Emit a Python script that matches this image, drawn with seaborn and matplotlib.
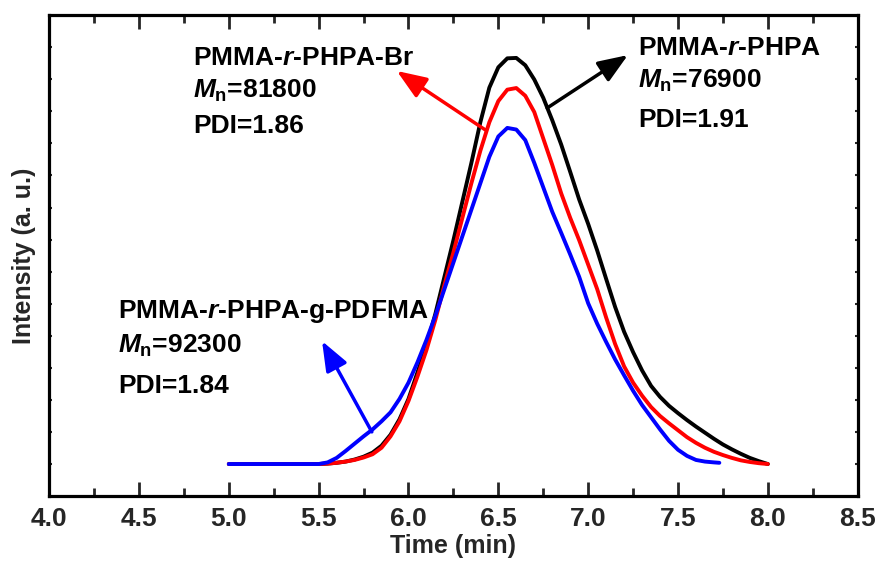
import numpy as np
import pandas as pd
import matplotlib
matplotlib.use('Agg')
import matplotlib.pyplot as plt
import seaborn as sns

# GPC traces (time in min, intensity normalised to black peak)
time_black = [5.0, 5.5, 5.55, 5.6, 5.65, 5.7, 5.75, 5.8, 5.85, 5.9, 5.95, 6.0, 6.05,
              6.1, 6.15, 6.2, 6.25, 6.3, 6.35, 6.4, 6.45, 6.5, 6.55, 6.6, 6.65, 6.7,
              6.75, 6.8, 6.85, 6.9, 6.95, 7.0, 7.05, 7.1, 7.15, 7.2, 7.25, 7.3, 7.35,
              7.4, 7.45, 7.5, 7.55, 7.6, 7.65, 7.7, 7.75, 7.8, 7.85, 7.9, 7.95, 8.0]
int_black = [0, 0, 0.001, 0.003, 0.006, 0.011, 0.018, 0.028, 0.045, 0.072, 0.11, 0.16, 0.225,
             0.29, 0.37, 0.46, 0.55, 0.645, 0.74, 0.84, 0.925, 0.975, 0.997, 0.998, 0.98, 0.945,
             0.9, 0.845, 0.785, 0.718, 0.65, 0.59, 0.525, 0.455, 0.386, 0.325, 0.275, 0.23, 0.192,
             0.165, 0.143, 0.125, 0.108, 0.092, 0.077, 0.062, 0.048, 0.036, 0.025, 0.015, 0.007, 0.0]

time_red = [5.0, 5.5, 5.55, 5.6, 5.65, 5.7, 5.75, 5.8, 5.85, 5.9, 5.95, 6.0, 6.05,
            6.1, 6.15, 6.2, 6.25, 6.3, 6.35, 6.4, 6.45, 6.5, 6.55, 6.6, 6.65, 6.7,
            6.75, 6.8, 6.85, 6.9, 6.95, 7.0, 7.05, 7.1, 7.15, 7.2, 7.25, 7.3, 7.35,
            7.4, 7.45, 7.5, 7.55, 7.6, 7.65, 7.7, 7.75, 7.8, 7.85, 7.9, 7.95, 8.0]
int_red = [0, 0, 0.001, 0.003, 0.006, 0.010, 0.016, 0.024, 0.040, 0.068, 0.105, 0.155, 0.215,
           0.28, 0.355, 0.44, 0.52, 0.605, 0.69, 0.77, 0.84, 0.892, 0.92, 0.924, 0.905, 0.865,
           0.80, 0.735, 0.665, 0.605, 0.55, 0.49, 0.43, 0.36, 0.295, 0.24, 0.2, 0.168, 0.14,
           0.118, 0.1, 0.083, 0.066, 0.052, 0.04, 0.03, 0.022, 0.015, 0.009, 0.005, 0.002, 0.0]

time_blue = [5.0, 5.5, 5.55, 5.6, 5.65, 5.7, 5.75, 5.8, 5.85, 5.9, 5.95, 6.0, 6.05,
             6.1, 6.15, 6.2, 6.25, 6.3, 6.35, 6.4, 6.45, 6.5, 6.55, 6.6, 6.65, 6.7,
             6.75, 6.8, 6.85, 6.9, 6.95, 7.0, 7.05, 7.1, 7.15, 7.2, 7.25, 7.3, 7.35,
             7.4, 7.45, 7.5, 7.55, 7.6, 7.65, 7.7, 7.73]
int_blue = [0, 0, 0.004, 0.015, 0.032, 0.05, 0.068, 0.085, 0.105, 0.127, 0.16, 0.2, 0.25,
            0.305, 0.365, 0.43, 0.495, 0.56, 0.625, 0.69, 0.755, 0.805, 0.826, 0.822, 0.796, 0.74,
            0.68, 0.62, 0.568, 0.515, 0.46, 0.395, 0.345, 0.3, 0.257, 0.218, 0.18, 0.145, 0.115,
            0.085, 0.057, 0.035, 0.02, 0.01, 0.006, 0.004, 0.003]

samples = ['PMMA-r-PHPA', 'PMMA-r-PHPA-Br', 'PMMA-r-PHPA-g-PDFMA']
colors = ['black', 'red', 'blue']
mn_values = ['76900', '81800', '92300']
pdi_values = ['1.91', '1.86', '1.84']
name_tex = [r'PMMA-$\mathit{r}$-PHPA', r'PMMA-$\mathit{r}$-PHPA-Br',
            r'PMMA-$\mathit{r}$-PHPA-g-PDFMA']

df = pd.concat([
    pd.DataFrame({'time': time_black, 'intensity': int_black, 'sample': samples[0]}),
    pd.DataFrame({'time': time_red, 'intensity': int_red, 'sample': samples[1]}),
    pd.DataFrame({'time': time_blue, 'intensity': int_blue, 'sample': samples[2]}),
])

sns.set_theme(style='ticks')
plt.rcParams['font.family'] = ['Liberation Sans', 'DejaVu Sans']
plt.rcParams['font.weight'] = 'bold'
plt.rcParams['mathtext.fontset'] = 'custom'
plt.rcParams['mathtext.rm'] = 'Liberation Sans:bold'
plt.rcParams['mathtext.bf'] = 'Liberation Sans:bold'
plt.rcParams['mathtext.it'] = 'Liberation Sans:bold:italic'

fig = plt.figure(figsize=(8.77, 5.63), dpi=100)
ax = fig.add_axes([0.056, 0.119, 0.922, 0.854])

sns.lineplot(data=df, x='time', y='intensity', hue='sample', hue_order=samples,
             palette=colors, sort=False, estimator=None, linewidth=2.8,
             legend=False, ax=ax)
for ln in ax.lines:
    ln.set_solid_capstyle('round')
    ln.set_solid_joinstyle('round')

ylo, yhi = -0.0786, 1.103
ax.set_xlim(4.0, 8.5)
ax.set_ylim(ylo, yhi)
ax.set_xticks(np.arange(4.0, 8.51, 0.5))
ax.set_xticks(np.arange(4.25, 8.5, 0.5), minor=True)
ax.set_xticklabels([f'{v:.1f}' for v in np.arange(4.0, 8.51, 0.5)])
ax.set_yticks(np.linspace(ylo, yhi, 16)[1:-1])
ax.set_yticklabels([])

ax.tick_params(axis='x', which='major', direction='in', length=10, width=2,
               labelsize=19, pad=8, top=True)
ax.tick_params(axis='x', which='minor', direction='in', length=5.5, width=2, top=True)
ax.tick_params(axis='y', which='major', direction='in', length=2, width=1.5, right=True)
for sp in ax.spines.values():
    sp.set_linewidth(2.3)
    sp.set_color('black')
for lab in ax.get_xticklabels():
    lab.set_fontweight('bold')

ax.set_xlabel('Time (min)', fontsize=18, fontweight='bold', labelpad=2)
ax.set_ylabel('Intensity (a. u.)', fontsize=18, fontweight='bold', labelpad=6)

# annotation arrows (tail on curve -> head at label)
arrow_tails = [(6.772, 0.875), (6.428, 0.821), (5.796, 0.079)]
arrow_heads = [(7.221, 1.005), (5.935, 0.966), (5.519, 0.302)]
text_x = [7.276, 4.801, 4.384]
text_y = [[1.005, 0.924, 0.828], [0.980, 0.899, 0.813], [0.359, 0.273, 0.174]]

for i in range(3):
    ax.annotate('', xy=arrow_heads[i], xytext=arrow_tails[i],
                arrowprops=dict(arrowstyle='-|>,head_length=0.9,head_width=0.35',
                                color=colors[i], lw=2.5, mutation_scale=20,
                                shrinkA=0, shrinkB=0))
    lines = [name_tex[i], r'$\mathit{M}_\mathrm{n}$=' + mn_values[i], 'PDI=' + pdi_values[i]]
    for j, s in enumerate(lines):
        ax.text(text_x[i], text_y[i][j], s, fontsize=19, fontweight='bold',
                va='baseline', ha='left', color='black')

fig.savefig('out.png', dpi=100, facecolor='white')
